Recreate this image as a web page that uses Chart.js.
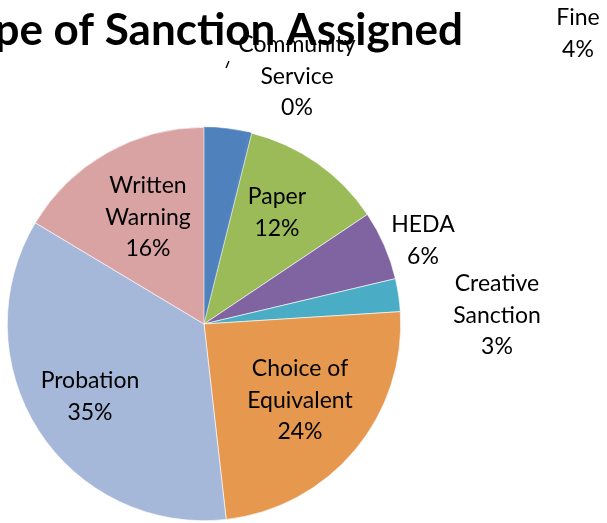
<!DOCTYPE html>
<html>
<head>
<meta charset="utf-8">
<script src="https://cdn.jsdelivr.net/npm/chart.js@4"></script>
<style>
  html, body { margin: 0; padding: 0; background: #fff; }
  #wrap { width: 607px; height: 523px; position: relative; }
</style>
</head>
<body>
<div id="wrap"><canvas id="sanctionChart"></canvas></div>
<script>
// values (percent of sanctions)
const categories = ['Fine', 'Community Service', 'Paper', 'HEDA', 'Creative Sanction', 'Choice of Equivalent', 'Probation', 'Written Warning']
const shares = [3.7, 0.2, 11.7, 5.7, 2.7, 24.2, 35.4, 16.4]
const sliceColors = ['#4f81bd', '#4f81bd', '#9bbb59', '#8064a2', '#4bacc6', '#e6984e', '#a5b8d9', '#daa3a3']
const edgeColors = ['#4f81bd', '#4f81bd', '#fff', '#fff', '#fff', '#fff', '#fff', '#fff']

// where excel put each label (centre of first line), and how it wraps
const labelLines = [['Fine'], ['Community', 'Service'], ['Paper'], ['HEDA'], ['Creative', 'Sanction'], ['Choice of', 'Equivalent'], ['Probation'], ['Written', 'Warning']]
const labelAt = [[578, 18], [297, 45], [277, 197], [423, 225], [497, 284], [300, 369], [90, 381], [148, 186]]

const FONT = 'Lato, "Open Sans", sans-serif'

const labelsPlugin = {
    id: 'sliceLabels',
    afterDatasetsDraw(chart) {
        const ctx = chart.ctx
        const total = shares.reduce((a, b) => a + b, 0)
        ctx.save()

        // title, cut off on the left like the original
        ctx.font = 'bold 44px ' + FONT
        ctx.fillStyle = '#000'
        ctx.textAlign = 'right'
        ctx.textBaseline = 'alphabetic'
        ctx.fillText('Type of Sanction Assigned', 463, 45)

        // little leader stub for community service
        ctx.strokeStyle = '#000'
        ctx.lineWidth = 1.4
        ctx.beginPath()
        ctx.moveTo(226, 68)
        ctx.lineTo(229, 61)
        ctx.stroke()

        ctx.font = '23px ' + FONT
        ctx.textAlign = 'center'
        ctx.textBaseline = 'middle'
        labelLines.forEach((lines, i) => {
            const [x, y] = labelAt[i]
            const pct = Math.round(shares[i] / total * 100) + '%'
            lines.concat(pct).forEach((t, k) => ctx.fillText(t, x, y + k * 31.5))
        })
        ctx.restore()
    }
}

new Chart('sanctionChart', {
    type: 'pie',
    data: {
        labels: categories,
        datasets: [{
            data: shares,
            backgroundColor: sliceColors,
            borderColor: edgeColors,
            borderWidth: 0.6
        }]
    },
    options: {
        responsive: true,
        maintainAspectRatio: false,
        animation: false,
        layout: { padding: { left: 7, top: 127, right: 206, bottom: 2 } },
        plugins: {
            legend: { display: false },
            tooltip: { enabled: false },
            title: { display: false }
        }
    },
    plugins: [labelsPlugin]
})
</script>
</body>
</html>
